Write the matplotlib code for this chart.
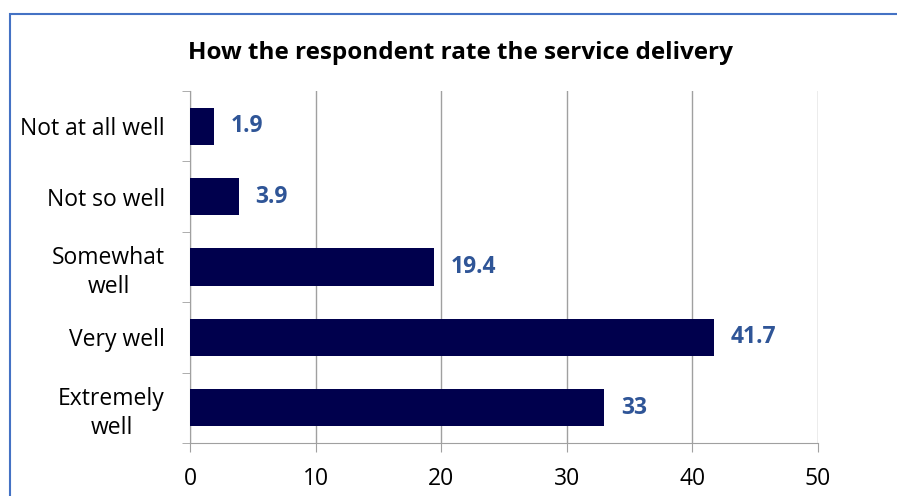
import numpy as np
import matplotlib.pyplot as plt
from matplotlib.patches import Rectangle

plt.rcParams['font.family'] = ['Open Sans', 'DejaVu Sans']

categories = ['Not at all well', 'Not so well', 'Somewhat\nwell', 'Very well', 'Extremely\nwell']
values = [1.9, 3.9, 19.4, 41.7, 33]
labels = ['1.9', '3.9', '19.4', '41.7', '33']

fig = plt.figure(figsize=(8.97, 4.96), dpi=100)
ax = fig.add_axes([190/897, 1 - 443/496, 628/897, 352/496])

y = np.arange(len(categories))
ax.barh(y, values, height=0.53, color='#00004d', zorder=3)
for yi, v, t in zip(y, values, labels):
    ax.annotate(t, (v, yi), xytext=(12, 0), textcoords='offset points',
                va='center', ha='left', fontsize=16.5, fontweight='bold', color='#2f5597')

ax.set_xlim(0, 50)
ax.set_ylim(len(categories) - 0.5, -0.5)
ax.set_xticks(np.arange(0, 51, 10))
ax.set_yticks(y)
ax.set_yticklabels(categories, fontsize=16.5, linespacing=1.3, multialignment='center')
ax.set_yticks(np.arange(-0.5, len(categories), 1), minor=True)
ax.tick_params(axis='y', which='major', length=0, pad=18)
ax.tick_params(axis='y', which='minor', length=5.5, color='#a0a0a0', direction='out')
ax.tick_params(axis='x', length=6.5, color='#a0a0a0', direction='out', pad=11, labelsize=16.5)
ax.grid(axis='x', color='#a0a0a0', linewidth=1, zorder=0)
for s in ['top', 'right']:
    ax.spines[s].set_visible(False)
for s in ['left', 'bottom']:
    ax.spines[s].set_color('#a0a0a0')

fig.text(460/897, 1 - 53/496, 'How the respondent rate the service delivery',
         ha='center', va='center', fontsize=17.5, fontweight='bold')

fig.patches.append(Rectangle((10/897, -0.5), 2, 0.5 + 1 - 14/496, transform=fig.transFigure,
                             fill=False, edgecolor='#4472c4', linewidth=1.5))

fig.savefig('out.png', dpi=100)
